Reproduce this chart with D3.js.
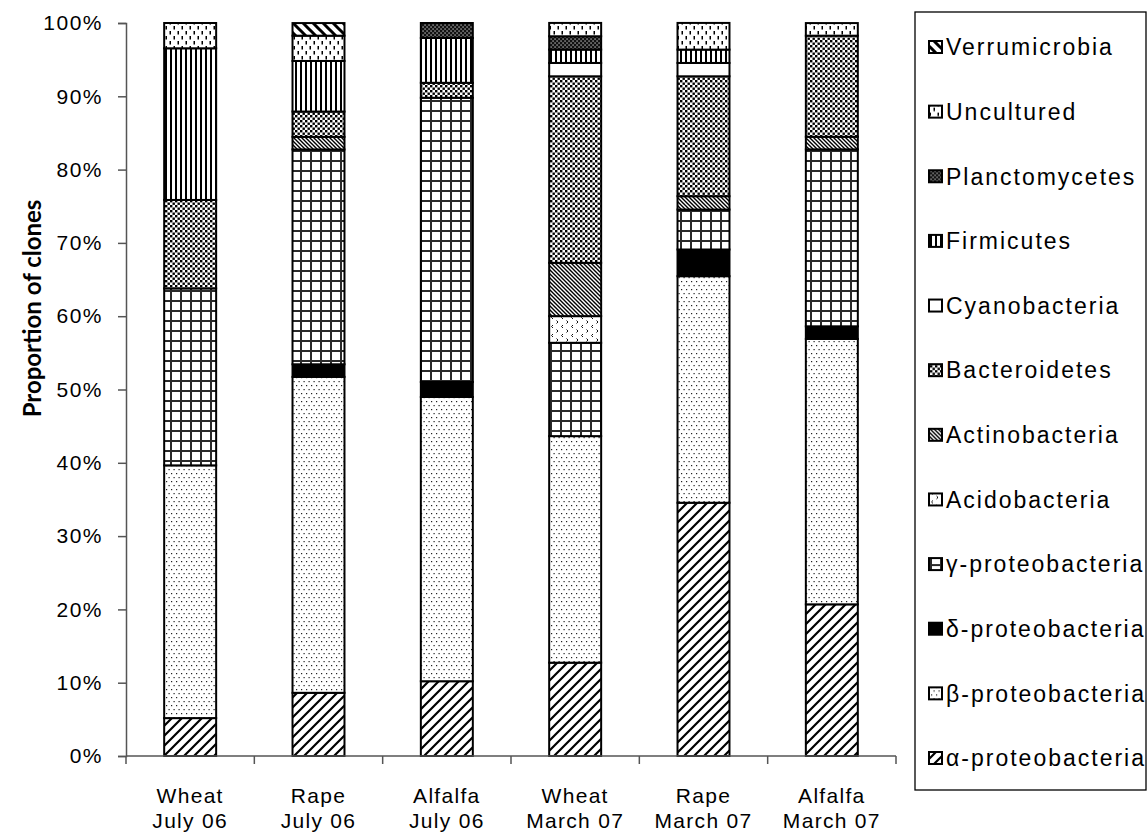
<!DOCTYPE html>
<html>
<head>
<meta charset="utf-8">
<script src="https://cdn.jsdelivr.net/npm/d3@7"></script>
<style>
  html, body { margin: 0; padding: 0; background: #fff; }
  svg { display: block; }
</style>
</head>
<body>
<svg id="chart" width="1148" height="839"></svg>
<script>
// ---------------- DATA ----------------
const categories = ["Wheat\nJuly 06", "Rape\nJuly 06", "Alfalfa\nJuly 06", "Wheat\nMarch 07", "Rape\nMarch 07", "Alfalfa\nMarch 07"];
const seriesNames = ["α-proteobacteria", "β-proteobacteria", "δ-proteobacteria", "γ-proteobacteria", "Acidobacteria", "Actinobacteria", "Bacteroidetes", "Cyanobacteria", "Firmicutes", "Planctomycetes", "Uncultured", "Verrumicrobia"];
const alphaProteo   = [5.17, 8.62, 10.20, 12.73, 34.55, 20.69];
const betaProteo    = [34.48, 43.10, 38.78, 30.91, 30.91, 36.21];
const deltaProteo   = [0, 1.72, 2.04, 0, 3.64, 1.72];
const gammaProteo   = [24.14, 29.31, 38.78, 12.73, 5.45, 24.14];
const acidobacteria = [0, 0, 0, 3.64, 0, 0];
const actinobacteria= [0, 1.72, 0, 7.27, 1.82, 1.72];
const bacteroidetes = [12.07, 3.45, 2.04, 25.45, 16.36, 13.79];
const cyanobacteria = [0, 0, 0, 1.82, 1.82, 0];
const firmicutes    = [20.69, 6.90, 6.12, 1.82, 1.82, 0];
const planctomycetes= [0, 0, 2.04, 1.82, 0, 0];
const uncultured    = [3.45, 3.45, 0, 1.82, 3.64, 1.72];
const verrumicrobia = [0, 1.72, 0, 0, 0, 0];
const yTicks = [0, 10, 20, 30, 40, 50, 60, 70, 80, 90, 100];
const yTitle = "Proportion of clones";

const seriesValues = [alphaProteo, betaProteo, deltaProteo, gammaProteo, acidobacteria, actinobacteria,
  bacteroidetes, cyanobacteria, firmicutes, planctomycetes, uncultured, verrumicrobia];

// table for d3.stack
const table = categories.map((c, i) => {
  const row = { cat: c };
  seriesNames.forEach((s, j) => row[s] = seriesValues[j][i]);
  return row;
});

// ---------------- LAYOUT ----------------
const svg = d3.select("#chart");
const plot = { left: 126, right: 896, top: 23, bottom: 756 };

const x = d3.scaleBand().domain(categories).range([plot.left, plot.right])
  .paddingInner(0.595).paddingOuter(0.2975);
const xStep = d3.scaleBand().domain(categories).range([plot.left, plot.right]).padding(0);
const y = d3.scaleLinear().domain([0, 100]).range([plot.bottom, plot.top]);

// ---------------- PATTERNS ----------------
const defs = svg.append("defs");
function pat(id, w, h, draw) {
  const p = defs.append("pattern").attr("id", id).attr("patternUnits", "userSpaceOnUse")
    .attr("width", w).attr("height", h);
  draw(p);
}
const pid = {};
seriesNames.forEach((s, i) => pid[s] = "p" + i);

// alpha: wide forward diagonals
pat(pid[seriesNames[0]], 10, 10, p => {
  p.append("rect").attr("width", 10).attr("height", 10).attr("fill", "#fff");
  p.append("path").attr("d", "M-2,12 L12,-2 M-2,2 L2,-2 M8,12 L12,8").attr("stroke", "#000").attr("stroke-width", 2.2);
});
// beta: sparse staggered dots
pat(pid[seriesNames[1]], 5, 8, p => {
  p.append("rect").attr("width", 5).attr("height", 8).attr("fill", "#fff");
  p.append("rect").attr("x", 1).attr("y", 1).attr("width", 1.2).attr("height", 1.2).attr("fill", "#222");
  p.append("rect").attr("x", 3.5).attr("y", 5).attr("width", 1.2).attr("height", 1.2).attr("fill", "#222");
});
// delta: solid black
pat(pid[seriesNames[2]], 4, 4, p => {
  p.append("rect").attr("width", 4).attr("height", 4).attr("fill", "#000");
});
// gamma: grid
pat(pid[seriesNames[3]], 10, 10, p => {
  p.append("rect").attr("width", 10).attr("height", 10).attr("fill", "#fff");
  p.append("rect").attr("x", 0).attr("y", 0).attr("width", 2).attr("height", 10).attr("fill", "#2a2a2a");
  p.append("rect").attr("x", 0).attr("y", 0).attr("width", 10).attr("height", 2).attr("fill", "#2a2a2a");
});
// acidobacteria: small chevrons
pat(pid[seriesNames[4]], 10, 9, p => {
  p.append("rect").attr("width", 10).attr("height", 9).attr("fill", "#fff");
  p.append("path").attr("d", "M3,1 L1.5,2.5 L3,4 M6.5,5.5 L8,7 L6.5,8.5").attr("stroke", "#111").attr("stroke-width", 1).attr("fill", "none");
});
// actinobacteria: dense back diagonals
pat(pid[seriesNames[5]], 4, 4, p => {
  p.append("rect").attr("width", 4).attr("height", 4).attr("fill", "#fff");
  p.append("path").attr("d", "M-1,-1 L5,5 M-1,3 L1,5 M3,-1 L5,1").attr("stroke", "#000").attr("stroke-width", 1.4);
});
// bacteroidetes: dense confetti
pat(pid[seriesNames[6]], 5, 5, p => {
  p.append("rect").attr("width", 5).attr("height", 5).attr("fill", "#fff");
  p.append("rect").attr("x", 0).attr("y", 0).attr("width", 2.4).attr("height", 2.4).attr("fill", "#000");
  p.append("rect").attr("x", 2.5).attr("y", 2.5).attr("width", 2.4).attr("height", 2.4).attr("fill", "#000");
});
// cyanobacteria: white
pat(pid[seriesNames[7]], 4, 4, p => {
  p.append("rect").attr("width", 4).attr("height", 4).attr("fill", "#fff");
});
// firmicutes: vertical stripes
pat(pid[seriesNames[8]], 5, 5, p => {
  p.append("rect").attr("width", 5).attr("height", 5).attr("fill", "#fff");
  p.append("rect").attr("x", 0).attr("width", 2).attr("height", 5).attr("fill", "#000");
});
// planctomycetes: black with white dots
pat(pid[seriesNames[9]], 4, 4, p => {
  p.append("rect").attr("width", 4).attr("height", 4).attr("fill", "#111");
  p.append("rect").attr("x", 0.5).attr("y", 0.5).attr("width", 1.1).attr("height", 1.1).attr("fill", "#fff");
  p.append("rect").attr("x", 2.5).attr("y", 2.5).attr("width", 1.1).attr("height", 1.1).attr("fill", "#fff");
});
// uncultured: short vertical dashes
pat(pid[seriesNames[10]], 8, 10, p => {
  p.append("rect").attr("width", 8).attr("height", 10).attr("fill", "#fff");
  p.append("rect").attr("x", 1.5).attr("y", 1).attr("width", 1.5).attr("height", 3.5).attr("fill", "#000");
  p.append("rect").attr("x", 5.5).attr("y", 6).attr("width", 1.5).attr("height", 3.5).attr("fill", "#000");
});
// verrumicrobia: wide back diagonals
pat(pid[seriesNames[11]], 10, 10, p => {
  p.append("rect").attr("width", 10).attr("height", 10).attr("fill", "#fff");
  p.append("path").attr("d", "M-2,-2 L12,12 M-2,8 L2,12 M8,-2 L12,2").attr("stroke", "#000").attr("stroke-width", 3);
});

// ---------------- BARS ----------------
const stack = d3.stack().keys(seriesNames);
const stacked = stack(table);

const gBars = svg.append("g");
stacked.forEach(layer => {
  gBars.append("g")
    .selectAll("rect")
    .data(layer.filter(d => d[1] - d[0] > 0.001))
    .join("rect")
    .attr("x", d => x(d.data.cat))
    .attr("width", x.bandwidth())
    .attr("y", d => y(d[1]))
    .attr("height", d => y(d[0]) - y(d[1]))
    .attr("fill", `url(#${pid[layer.key]})`)
    .attr("stroke", "#000")
    .attr("stroke-width", 2);
});

// ---------------- AXES ----------------
const fontTick = "'Liberation Sans', Arial, sans-serif";
const yAxis = d3.axisLeft(y).tickValues(yTicks).tickFormat(d => d + "%").tickSize(8).tickPadding(15);
const gy = svg.append("g").attr("transform", `translate(${plot.left},0)`).call(yAxis);
gy.select(".domain").attr("stroke", "#555").attr("stroke-width", 1.5);
gy.selectAll(".tick line").attr("stroke", "#555").attr("stroke-width", 1.5);
gy.selectAll(".tick text").attr("font-family", fontTick).attr("font-size", 21)
  .attr("letter-spacing", "1.5px").attr("fill", "#000");

// x axis line + boundary ticks
const gx = svg.append("g");
gx.append("line").attr("x1", plot.left).attr("x2", plot.right)
  .attr("y1", y(0)).attr("y2", y(0)).attr("stroke", "#555").attr("stroke-width", 1.5);
const boundaries = categories.map(c => xStep(c)).concat([xStep(categories[categories.length - 1]) + xStep.step()]);
gx.selectAll("line.tk").data(boundaries).join("line").attr("class", "tk")
  .attr("x1", d => d).attr("x2", d => d).attr("y1", y(0)).attr("y2", y(0) + 8)
  .attr("stroke", "#555").attr("stroke-width", 1.5);
const xl = gx.selectAll("text.xl").data(categories).join("text").attr("class", "xl")
  .attr("x", d => x(d) + x.bandwidth() / 2)
  .attr("y", 803)
  .attr("text-anchor", "middle")
  .attr("font-family", fontTick).attr("font-size", 21).attr("letter-spacing", "1.3px");
xl.selectAll("tspan").data(d => d.split("\n")).join("tspan")
  .attr("x", function () { return d3.select(this.parentNode).attr("x"); })
  .attr("dy", (d, i) => i === 0 ? 0 : 25)
  .text(d => d);

// y title
svg.append("text")
  .attr("transform", `translate(41,${(plot.top + plot.bottom) / 2 - 81}) rotate(-90)`)
  .attr("text-anchor", "middle")
  .attr("font-family", "Lato, 'Open Sans', sans-serif")
  .attr("font-weight", "bold")
  .attr("font-size", 24)
  .text(yTitle);

// ---------------- LEGEND ----------------
const legendOrder = seriesNames.slice().reverse();
const ly = d3.scalePoint().domain(legendOrder).range([47, 758]);
svg.append("rect").attr("x", 915).attr("y", 12).attr("width", 231).attr("height", 778)
  .attr("fill", "none").attr("stroke", "#000").attr("stroke-width", 1.3);
const li = svg.append("g").selectAll("g").data(legendOrder).join("g")
  .attr("transform", d => `translate(0,${ly(d)})`);
li.append("rect").attr("x", 929).attr("y", -6).attr("width", 13).attr("height", 12)
  .attr("fill", d => `url(#${pid[d]})`).attr("stroke", "#000").attr("stroke-width", 2);
li.append("text").attr("x", 946).attr("y", 0).attr("dy", "0.36em")
  .attr("font-family", fontTick).attr("font-size", 23).attr("letter-spacing", "2px")
  .text(d => d);
</script>
</body>
</html>
